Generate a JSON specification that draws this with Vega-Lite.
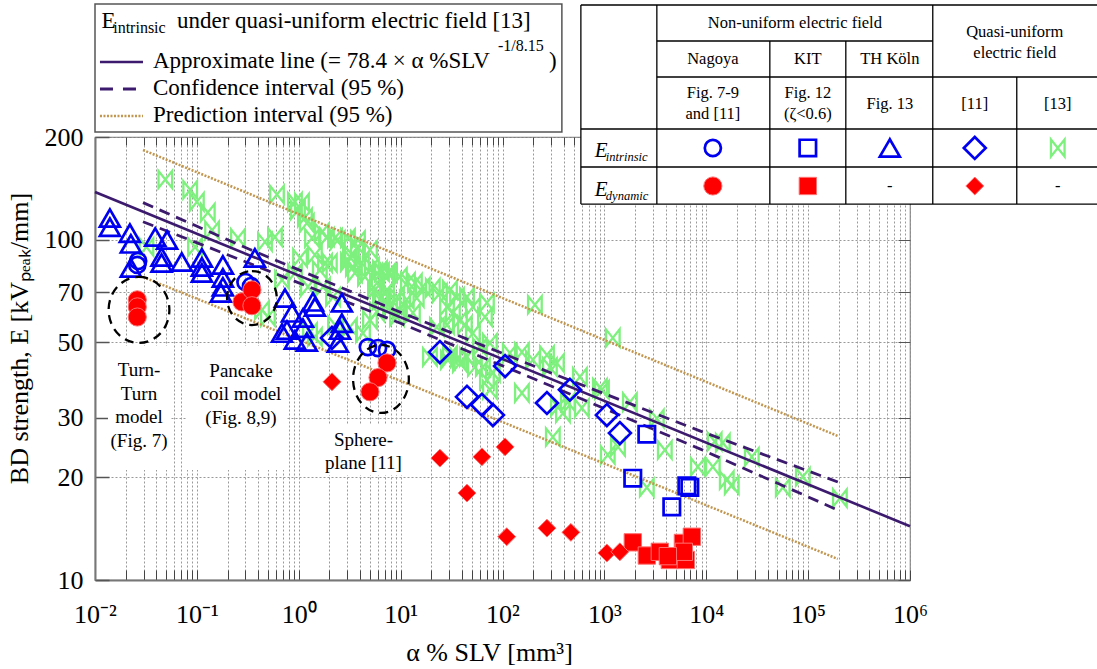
{
"$schema":"https://vega.github.io/schema/vega-lite/v6.json",
"width":815,"height":443,
"autosize":{"type":"none"},
"padding":{"left":95,"top":137,"right":187,"bottom":89},
"background":"white",
"config":{"font":"Liberation Serif","view":{"stroke":"#808080","strokeWidth":1.2}},
"datasets":{
"pts":[
{"x":0.014,"y":115.6,"s":"TH"},{"x":0.014,"y":108.7,"s":"TH"},{"x":0.022,"y":104.4,"s":"TH"},{"x":0.0225,"y":97.1,"s":"TH"},{"x":0.0225,"y":82.5,"s":"TH"},{"x":0.039,"y":101.7,"s":"TH"},{"x":0.051,"y":99.7,"s":"TH"},{"x":0.045,"y":88.9,"s":"TH"},{"x":0.045,"y":85.3,"s":"TH"},{"x":0.071,"y":85.9,"s":"TH"},{"x":0.112,"y":88.3,"s":"TH"},{"x":0.112,"y":83.1,"s":"TH"},{"x":0.112,"y":79.8,"s":"TH"},{"x":0.18,"y":84.2,"s":"TH"},{"x":0.18,"y":77.1,"s":"TH"},{"x":0.18,"y":72.6,"s":"TH"},{"x":0.172,"y":69.7,"s":"TH"},{"x":0.371,"y":88.3,"s":"TH"},{"x":0.732,"y":67.3,"s":"TH"},{"x":0.858,"y":60.9,"s":"TH"},{"x":0.766,"y":54.2,"s":"TH"},{"x":1.10,"y":58.8,"s":"TH"},{"x":1.38,"y":65.6,"s":"TH"},{"x":1.44,"y":63.4,"s":"TH"},{"x":0.917,"y":50.7,"s":"TH"},{"x":1.20,"y":50.0,"s":"TH"},{"x":2.65,"y":65.2,"s":"TH"},{"x":2.65,"y":56.8,"s":"TH"},{"x":2.54,"y":54.2,"s":"TH"},{"x":2.42,"y":49.7,"s":"TH"},{"x":1.10,"y":54.9,"s":"TH"},{"x":0.685,"y":53.1,"s":"TH"},{"x":633800,"y":185.7,"s":"TH"},
{"x":0.026,"y":84.2,"s":"Ng_i"},{"x":0.0265,"y":86.5,"s":"Ng_i"},{"x":0.30,"y":75.0,"s":"Ng_i"},{"x":0.34,"y":73.0,"s":"Ng_i"},{"x":4.77,"y":48.3,"s":"Ng_i"},{"x":6.0,"y":48.0,"s":"Ng_i"},{"x":7.35,"y":47.4,"s":"Ng_i"},{"x":11610,"y":185.7,"s":"Ng_i"},
{"x":0.026,"y":66.5,"s":"Ng_d"},{"x":0.026,"y":63.4,"s":"Ng_d"},{"x":0.026,"y":59.2,"s":"Ng_d"},{"x":0.277,"y":65.6,"s":"Ng_d"},{"x":0.347,"y":71.1,"s":"Ng_d"},{"x":0.347,"y":63.9,"s":"Ng_d"},{"x":7.35,"y":43.4,"s":"Ng_d"},{"x":6.0,"y":39.3,"s":"Ng_d"},{"x":5.0,"y":35.7,"s":"Ng_d"},{"x":11610,"y":143.6,"s":"Ng_d"},
{"x":2610,"y":26.8,"s":"KIT_i"},{"x":1900,"y":19.9,"s":"KIT_i"},{"x":4590,"y":16.4,"s":"KIT_i"},{"x":6450,"y":18.9,"s":"KIT_i"},{"x":6900,"y":18.7,"s":"KIT_i"},{"x":99330,"y":185.7,"s":"KIT_i"},
{"x":1900,"y":12.9,"s":"KIT_d"},{"x":2610,"y":11.8,"s":"KIT_d"},{"x":3500,"y":12.1,"s":"KIT_d"},{"x":4390,"y":11.45,"s":"KIT_d"},{"x":5900,"y":12.85,"s":"KIT_d"},{"x":7220,"y":13.4,"s":"KIT_d"},{"x":6310,"y":11.45,"s":"KIT_d"},{"x":6030,"y":12.1,"s":"KIT_d"},{"x":4200,"y":11.75,"s":"KIT_d"},{"x":99330,"y":143.6,"s":"KIT_d"},
{"x":2.12,"y":51.4,"s":"Q11_i"},{"x":24.3,"y":46.7,"s":"Q11_i"},{"x":106,"y":42.5,"s":"Q11_i"},{"x":44.8,"y":34.5,"s":"Q11_i"},{"x":62.8,"y":32.7,"s":"Q11_i"},{"x":80.5,"y":30.5,"s":"Q11_i"},{"x":273,"y":33.1,"s":"Q11_i"},{"x":459,"y":36.2,"s":"Q11_i"},{"x":1058,"y":30.5,"s":"Q11_i"},{"x":1420,"y":27.0,"s":"Q11_i"},{"x":4324000,"y":185.7,"s":"Q11_i"},
{"x":2.12,"y":38.2,"s":"Q11_d"},{"x":24.3,"y":22.8,"s":"Q11_d"},{"x":62.8,"y":23.0,"s":"Q11_d"},{"x":106,"y":24.6,"s":"Q11_d"},{"x":44.8,"y":18.0,"s":"Q11_d"},{"x":110,"y":13.4,"s":"Q11_d"},{"x":273,"y":14.2,"s":"Q11_d"},{"x":469,"y":13.8,"s":"Q11_d"},{"x":1058,"y":12.0,"s":"Q11_d"},{"x":1420,"y":12.1,"s":"Q11_d"},{"x":4324000,"y":143.6,"s":"Q11_d"},
{"x":0.049,"y":150,"s":"Q13"},{"x":0.086,"y":140,"s":"Q13"},{"x":0.10,"y":129,"s":"Q13"},{"x":0.128,"y":120,"s":"Q13"},{"x":0.141,"y":106.5,"s":"Q13"},{"x":0.096,"y":95.1,"s":"Q13"},{"x":0.032,"y":95.1,"s":"Q13"},{"x":0.253,"y":101,"s":"Q13"},{"x":0.611,"y":135.5,"s":"Q13"},{"x":0.917,"y":129,"s":"Q13"},{"x":0.982,"y":122,"s":"Q13"},{"x":1.15,"y":116,"s":"Q13"},{"x":0.584,"y":101.7,"s":"Q13"},{"x":1.35,"y":101,"s":"Q13"},{"x":1.69,"y":105,"s":"Q13"},{"x":2.27,"y":101,"s":"Q13"},{"x":3.04,"y":101,"s":"Q13"},{"x":3.81,"y":99.7,"s":"Q13"},{"x":3.33,"y":90.1,"s":"Q13"},{"x":1.44,"y":90.1,"s":"Q13"},{"x":1.81,"y":85.3,"s":"Q13"},{"x":3.04,"y":85.9,"s":"Q13"},{"x":4.17,"y":85.3,"s":"Q13"},{"x":5.23,"y":83.1,"s":"Q13"},{"x":6.56,"y":80.3,"s":"Q13"},{"x":7.51,"y":79.8,"s":"Q13"},{"x":3.56,"y":79.8,"s":"Q13"},{"x":4.47,"y":77.7,"s":"Q13"},{"x":0.685,"y":76.1,"s":"Q13"},{"x":0.917,"y":79.8,"s":"Q13"},{"x":1.23,"y":72.6,"s":"Q13"},{"x":5.60,"y":71.1,"s":"Q13"},{"x":6.56,"y":67.8,"s":"Q13"},{"x":0.498,"y":59.2,"s":"Q13"},{"x":0.436,"y":62.1,"s":"Q13"},{"x":1.29,"y":53.5,"s":"Q13"},{"x":2.27,"y":56.1,"s":"Q13"},{"x":1.075,"y":128.4,"s":"Q13"},{"x":1.20,"y":111.7,"s":"Q13"},{"x":1.89,"y":101.7,"s":"Q13"},{"x":2.42,"y":99.7,"s":"Q13"},{"x":3.81,"y":95.1,"s":"Q13"},{"x":3.18,"y":88.9,"s":"Q13"},{"x":5.0,"y":93.2,"s":"Q13"},{"x":3.40,"y":83.1,"s":"Q13"},{"x":6.27,"y":81.4,"s":"Q13"},{"x":7.87,"y":79.8,"s":"Q13"},{"x":9.83,"y":77.7,"s":"Q13"},{"x":11.8,"y":75.1,"s":"Q13"},{"x":13.8,"y":74.6,"s":"Q13"},{"x":16.5,"y":72.6,"s":"Q13"},{"x":20.7,"y":72.1,"s":"Q13"},{"x":24.3,"y":69.7,"s":"Q13"},{"x":30.5,"y":71.1,"s":"Q13"},{"x":35.7,"y":67.8,"s":"Q13"},{"x":44.8,"y":67.8,"s":"Q13"},{"x":70.3,"y":65.2,"s":"Q13"},{"x":51.2,"y":63.4,"s":"Q13"},{"x":67.2,"y":59.2,"s":"Q13"},{"x":5.86,"y":74.6,"s":"Q13"},{"x":7.35,"y":71.1,"s":"Q13"},{"x":9.21,"y":67.8,"s":"Q13"},{"x":11.5,"y":66.5,"s":"Q13"},{"x":14.4,"y":67.3,"s":"Q13"},{"x":6.27,"y":66.5,"s":"Q13"},{"x":7.87,"y":63.4,"s":"Q13"},{"x":9.83,"y":62.1,"s":"Q13"},{"x":13.2,"y":60.9,"s":"Q13"},{"x":5.0,"y":58.0,"s":"Q13"},{"x":4.27,"y":53.1,"s":"Q13"},{"x":3.18,"y":55.3,"s":"Q13"},{"x":1.61,"y":81.4,"s":"Q13"},{"x":2.02,"y":85.3,"s":"Q13"},{"x":2.17,"y":67.8,"s":"Q13"},{"x":1.73,"y":72.6,"s":"Q13"},{"x":1.44,"y":51.7,"s":"Q13"},{"x":5.86,"y":61.3,"s":"Q13"},{"x":9.21,"y":59.2,"s":"Q13"},{"x":19.4,"y":45.2,"s":"Q13"},{"x":30.5,"y":45.8,"s":"Q13"},{"x":38.2,"y":43.4,"s":"Q13"},{"x":22.7,"y":55.3,"s":"Q13"},{"x":28.5,"y":56.1,"s":"Q13"},{"x":38.2,"y":58.0,"s":"Q13"},{"x":51.2,"y":53.1,"s":"Q13"},{"x":60,"y":48.3,"s":"Q13"},{"x":64.2,"y":42.2,"s":"Q13"},{"x":80.5,"y":40.6,"s":"Q13"},{"x":28.5,"y":63.4,"s":"Q13"},{"x":32.6,"y":60.9,"s":"Q13"},{"x":42.7,"y":56.1,"s":"Q13"},{"x":75.2,"y":49.7,"s":"Q13"},{"x":44.8,"y":45.2,"s":"Q13"},{"x":53.6,"y":42.2,"s":"Q13"},{"x":70.3,"y":38.7,"s":"Q13"},{"x":75.2,"y":36.2,"s":"Q13"},{"x":155,"y":35.4,"s":"Q13"},{"x":118,"y":46.4,"s":"Q13"},{"x":155,"y":46.7,"s":"Q13"},{"x":199,"y":44.3,"s":"Q13"},{"x":273,"y":45.8,"s":"Q13"},{"x":292,"y":42.2,"s":"Q13"},{"x":208,"y":64.3,"s":"Q13"},{"x":1210,"y":51.4,"s":"Q13"},{"x":575,"y":39.5,"s":"Q13"},{"x":904,"y":36.7,"s":"Q13"},{"x":438,"y":33.3,"s":"Q13"},{"x":392,"y":30.9,"s":"Q13"},{"x":601,"y":32.0,"s":"Q13"},{"x":1780,"y":33.3,"s":"Q13"},{"x":36.5,"y":44.9,"s":"Q13"},{"x":29.1,"y":44.3,"s":"Q13"},{"x":342,"y":43.4,"s":"Q13"},{"x":3270,"y":29.8,"s":"Q13"},{"x":1080,"y":23.3,"s":"Q13"},{"x":1360,"y":24.6,"s":"Q13"},{"x":2610,"y":18.7,"s":"Q13"},{"x":3920,"y":24.1,"s":"Q13"},{"x":8270,"y":21.5,"s":"Q13"},{"x":11600,"y":21.5,"s":"Q13"},{"x":12100,"y":25.5,"s":"Q13"},{"x":14550,"y":25.3,"s":"Q13"},{"x":15900,"y":19.66,"s":"Q13"},{"x":17800,"y":19.0,"s":"Q13"},{"x":28000,"y":23.0,"s":"Q13"},{"x":56400,"y":18.7,"s":"Q13"},{"x":88800,"y":20.1,"s":"Q13"},{"x":205000,"y":17.4,"s":"Q13"},{"x":312,"y":26.3,"s":"Q13"},{"x":350,"y":32.2,"s":"Q13"},{"x":947,"y":36.2,"s":"Q13"},{"x":0.466,"y":98.4,"s":"Q13"},{"x":1.03,"y":88.3,"s":"Q13"},{"x":28210000,"y":185.7,"s":"Q13"}
],
"lines":[
{"x":0.01,"y":137.9,"k":"approx"},{"x":1000000,"y":14.39,"k":"approx"},
{"x":0.0296,"y":128.3,"k":"ciU"},{"x":0.332,"y":93.45,"k":"ciU"},{"x":9.84,"y":61.25,"k":"ciU"},{"x":291.8,"y":40.68,"k":"ciU"},{"x":8652,"y":27.41,"k":"ciU"},{"x":195600,"y":19.40,"k":"ciU"},
{"x":0.0296,"y":112.8,"k":"ciL"},{"x":0.332,"y":85.0,"k":"ciL"},{"x":9.84,"y":56.86,"k":"ciL"},{"x":291.8,"y":37.26,"k":"ciL"},{"x":8652,"y":24.27,"k":"ciL"},{"x":195600,"y":16.05,"k":"ciL"},
{"x":0.0296,"y":183.2,"k":"piU"},{"x":75.2,"y":69.7,"k":"piU"},{"x":195600,"y":26.48,"k":"piU"},
{"x":0.0296,"y":77.6,"k":"piL"},{"x":75.2,"y":30.13,"k":"piL"},{"x":195600,"y":11.53,"k":"piL"}
],
"whites":[
{"x":0.01341,"x2":0.05445,"y":48.66,"y2":21.04},
{"x":0.07816,"x2":0.7659,"y":48.66,"y2":21.04},
{"x":1.543,"x2":11.27,"y":28.53,"y2":20.34},
{"x":588,"x2":72900000,"y":488.3,"y2":127.1}
],
"annot":[
{"x":0.02703,"y":41.37,"t":"Turn-\nTurn\nmodel\n(Fig. 7)"},
{"x":0.2709,"y":41.10,"t":"Pancake\ncoil model\n(Fig. 8,9)"},
{"x":4.314,"y":25.8,"t":"Sphere-\nplane [11]"}
],
"tblRules":[
{"x":588,"x2":72900000,"y":488.3,"y2":488.3},
{"x":3274,"x2":1673000,"y":382.8,"y2":382.8},
{"x":3274,"x2":72900000,"y":300.1,"y2":300.1},
{"x":588,"x2":72900000,"y":211.1,"y2":211.1},
{"x":588,"x2":72900000,"y":163.3,"y2":163.3},
{"x":588,"x2":72900000,"y":127.1,"y2":127.1},
{"x":588,"x2":588,"y":488.3,"y2":127.1},
{"x":3274,"x2":3274,"y":488.3,"y2":127.1},
{"x":42090,"x2":42090,"y":382.8,"y2":127.1},
{"x":234400,"x2":234400,"y":382.8,"y2":127.1},
{"x":1673000,"x2":1673000,"y":488.3,"y2":127.1},
{"x":11170000,"x2":11170000,"y":300.1,"y2":127.1}
],
"tblText":[
{"x":74050,"y":432.3,"t":"Non-uniform electric field"},
{"x":11610,"y":338.9,"t":"Nagoya"},
{"x":99330,"y":338.9,"t":"KIT"},
{"x":633800,"y":338.9,"t":"TH Köln"},
{"x":10680000,"y":406.8,"t":"Quasi-uniform\nelectric field"},
{"x":11610,"y":269.3,"t":"Fig. 7-9\nand [11]"},
{"x":99330,"y":269.3,"t":"Fig. 12\n(ζ<0.6)"},
{"x":633800,"y":250.0,"t":"Fig. 13"},
{"x":4324000,"y":250.0,"t":"[11]"},
{"x":28210000,"y":250.0,"t":"[13]"},
{"x":633800,"y":143.6,"t":"-"},
{"x":28210000,"y":143.6,"t":"-"}
],
"legText":[
{"x":0.01155,"y":417.9,"t":"E"},
{"x":0.06378,"y":417.9,"t":"under quasi-uniform electric field [13]"},
{"x":0.03709,"y":318.9,"t":"Approximate line (= 78.4 × α %SLV"},
{"x":285.4,"y":318.9,"t":")"},
{"x":0.03709,"y":265.7,"t":"Confidence interval (95 %)"},
{"x":0.03709,"y":221.4,"t":"Prediction interval (95 %)"}
],
"legSmall":[
{"x":0.01510,"y":404.1,"t":"intrinsic"},
{"x":90.13,"y":357.7,"t":"-1/8.15"}
]
},
"encoding":{
"x":{"field":"x","type":"quantitative","scale":{"type":"log","domain":[0.01,1000000],"nice":false},"axis":null},
"y":{"field":"y","type":"quantitative","scale":{"type":"log","domain":[10,200],"nice":false},"axis":null}
},
"layer":[
{"data":{"name":"whites"},"mark":{"type":"rect","fill":"white","strokeWidth":0},
 "encoding":{
  "x":{"field":"x","type":"quantitative","scale":{"type":"log","domain":[0.01,1000000],"nice":false},
   "axis":{"orient":"bottom","values":[0.01,0.02,0.03,0.04,0.05,0.06,0.07,0.08,0.09,0.1,0.2,0.3,0.4,0.5,0.6,0.7,0.8,0.9,1,2,3,4,5,6,7,8,9,10,20,30,40,50,60,70,80,90,100,200,300,400,500,600,700,800,900,1000,2000,3000,4000,5000,6000,7000,8000,9000,10000,20000,30000,40000,50000,60000,70000,80000,90000,100000,200000,300000,400000,500000,600000,700000,800000,900000,1000000],
   "labelExpr":"abs(log(datum.value)/LN10 - round(log(datum.value)/LN10)) < 0.001 ? '10' + ['⁻²','⁻¹','⁰','¹','²','³','⁴','⁵','⁶'][round(log(datum.value)/LN10)+2] : ''",
   "labelFont":"Liberation Serif","labelFontSize":26,"labelColor":"#000","labelOverlap":false,"labelFlush":false,"labelPadding":31,
   "tickSize":-10,"tickColor":"#444","tickWidth":1,
   "domainColor":"#777","domainWidth":2,
   "grid":true,"gridColor":"#999","gridDash":[2,2],"gridWidth":1,
   "title":"α % SLV [mm³]","titleFont":"Liberation Serif","titleFontSize":26,"titleFontWeight":"normal","titleColor":"#000","titlePadding":12,"titleX":394}},
  "y":{"field":"y","type":"quantitative","scale":{"type":"log","domain":[10,200],"nice":false},
   "axis":{"orient":"left","values":[10,20,30,50,70,100,200],"labelExpr":"format(datum.value,'d')",
   "labelFont":"Liberation Serif","labelFontSize":26,"labelColor":"#000","labelFlush":false,"labelOverlap":false,"labelPadding":26,
   "tickSize":-14,"tickColor":"#555","tickWidth":1.5,
   "domainColor":"#777","domainWidth":2,
   "grid":true,"gridColor":"#999","gridDash":[2,2],"gridWidth":1,
   "title":"BD strength, E [kVₚₑₐₖ/mm]","titleFont":"Liberation Serif","titleFontSize":26,"titleFontWeight":"normal","titleColor":"#000","titlePadding":12,"titleY":201}},
  "x2":{"field":"x2"},"y2":{"field":"y2"}}},
{"data":{"values":[{"x":0.01,"x2":382.7,"y":491.6,"y2":206.9}]},"mark":{"type":"rect","fill":"white","stroke":"#555","strokeWidth":1.5},
 "encoding":{"x2":{"field":"x2"},"y2":{"field":"y2"}}},
{"data":{"name":"pts"},"transform":[{"filter":"datum.s=='Q13'"}],
 "mark":{"type":"point","shape":"M-0.8,-1L0.8,1L0.8,-1L-0.8,1Z","filled":false,"color":"#7df07d","strokeWidth":2.3,"size":290,"opacity":1}},
{"data":{"name":"lines"},"transform":[{"filter":"datum.k=='approx'"}],
 "mark":{"type":"line","color":"#3c1a6e","strokeWidth":2.6},
 "encoding":{
  "x":{"field":"x","type":"quantitative","scale":{"type":"log","domain":[0.01,1000000],"nice":false},
   "axis":{"orient":"top","values":[0.01,0.02,0.03,0.04,0.05,0.06,0.07,0.08,0.09,0.1,0.2,0.3,0.4,0.5,0.6,0.7,0.8,0.9,1,2,3,4,5,6,7,8,9,10,20,30,40,50,60,70,80,90,100,200,300,400,500,600,700,800,900,1000,2000,3000,4000,5000,6000,7000,8000,9000,10000,20000,30000,40000,50000,60000,70000,80000,90000,100000,200000,300000,400000,500000,600000,700000,800000,900000,1000000],"labels":false,"tickSize":-8,"tickColor":"#444","domain":false,"grid":false,"title":null}},
  "y":{"field":"y","type":"quantitative","scale":{"type":"log","domain":[10,200],"nice":false},
   "axis":{"orient":"right","values":[10,20,30,50,70,100,200],"labels":false,"tickSize":-12,"tickColor":"#555","domain":false,"grid":false,"title":null}}}},
{"data":{"name":"lines"},"transform":[{"filter":"datum.k=='ciU' || datum.k=='ciL'"}],
 "mark":{"type":"line","color":"#3c1a6e","strokeWidth":2.8,"strokeDash":[11,7]},
 "encoding":{"detail":{"field":"k"}}},
{"data":{"name":"lines"},"transform":[{"filter":"datum.k=='piU' || datum.k=='piL'"}],
 "mark":{"type":"line","color":"#c2964e","strokeWidth":2.5,"strokeDash":[2,1.5]},
 "encoding":{"detail":{"field":"k"}}},
{"data":{"name":"pts"},"transform":[{"filter":"datum.s=='Ng_i'"}],
 "mark":{"type":"point","shape":"circle","filled":false,"color":"#0000f0","strokeWidth":2.7,"size":260,"opacity":1}},
{"data":{"name":"pts"},"transform":[{"filter":"datum.s=='TH'"}],
 "mark":{"type":"point","shape":"triangle-up","filled":false,"color":"#0000f0","strokeWidth":2.7,"size":400,"opacity":1}},
{"data":{"name":"pts"},"transform":[{"filter":"datum.s=='Q11_i'"}],
 "mark":{"type":"point","shape":"diamond","filled":false,"color":"#0000f0","strokeWidth":2.7,"size":480,"opacity":1}},
{"data":{"name":"pts"},"transform":[{"filter":"datum.s=='KIT_i'"}],
 "mark":{"type":"point","shape":"square","filled":false,"color":"#0000f0","strokeWidth":2.7,"size":270,"opacity":1}},
{"data":{"name":"pts"},"transform":[{"filter":"datum.s=='Ng_d'"}],
 "mark":{"type":"point","shape":"circle","filled":true,"fill":"#ff0000","stroke":"#ff7070","strokeWidth":1,"size":330,"opacity":1}},
{"data":{"name":"pts"},"transform":[{"filter":"datum.s=='KIT_d'"}],
 "mark":{"type":"point","shape":"square","filled":true,"fill":"#ff0000","stroke":"#ff7070","strokeWidth":1,"size":300,"opacity":1}},
{"data":{"name":"pts"},"transform":[{"filter":"datum.s=='Q11_d'"}],
 "mark":{"type":"point","shape":"diamond","filled":true,"fill":"#ff0000","stroke":"#ff7070","strokeWidth":1,"size":320,"opacity":1}},
{"data":{"values":[{"x":0.02703,"y":62.1}]},
 "mark":{"type":"point","shape":"M0,-1A0.92,1,0,1,1,0,1A0.92,1,0,1,1,0,-1Z","filled":false,"color":"#000","strokeWidth":2.3,"strokeDash":[9,6],"size":4356,"opacity":1}},
{"data":{"values":[{"x":0.347,"y":67.3}]},
 "mark":{"type":"point","shape":"M0,-1A0.92,1,0,1,1,0,1A0.92,1,0,1,1,0,-1Z","filled":false,"color":"#000","strokeWidth":2.3,"strokeDash":[9,6],"size":2916,"opacity":1}},
{"data":{"values":[{"x":6.41,"y":38.94}]},
 "mark":{"type":"point","shape":"M0,-1A0.82,1,0,1,1,0,1A0.82,1,0,1,1,0,-1Z","filled":false,"color":"#000","strokeWidth":2.3,"strokeDash":[9,6],"size":4624,"opacity":1}},
{"data":{"name":"annot"},
 "mark":{"type":"text","font":"Liberation Serif","fontSize":19,"align":"center","baseline":"middle","lineBreak":"\n","lineHeight":23.5,"color":"#000"},
 "encoding":{"text":{"field":"t"}}},
{"data":{"values":[{"x":0.01119,"x2":0.02958,"y":332.1}]},"mark":{"type":"rule","color":"#3c1a6e","strokeWidth":2.6},"encoding":{"x2":{"field":"x2"}}},
{"data":{"values":[{"x":0.01119,"x2":0.02958,"y":276.7}]},"mark":{"type":"rule","color":"#3c1a6e","strokeWidth":2.8,"strokeDash":[13,10]},"encoding":{"x2":{"field":"x2"}}},
{"data":{"values":[{"x":0.01119,"x2":0.02958,"y":230.5}]},"mark":{"type":"rule","color":"#c2964e","strokeWidth":2.5,"strokeDash":[2,1.5]},"encoding":{"x2":{"field":"x2"}}},
{"data":{"name":"legText"},
 "mark":{"type":"text","font":"Liberation Serif","fontSize":23,"align":"left","baseline":"alphabetic","color":"#000"},
 "encoding":{"text":{"field":"t"}}},
{"data":{"name":"legSmall"},
 "mark":{"type":"text","font":"Liberation Serif","fontSize":16,"align":"left","baseline":"alphabetic","color":"#000"},
 "encoding":{"text":{"field":"t"}}},
{"data":{"name":"tblRules"},"mark":{"type":"rule","color":"#000","strokeWidth":1.3},
 "encoding":{"x2":{"field":"x2"},"y2":{"field":"y2"}}},
{"data":{"name":"tblText"},
 "mark":{"type":"text","font":"Liberation Serif","fontSize":16.5,"align":"center","baseline":"middle","lineBreak":"\n","lineHeight":21,"color":"#000"},
 "encoding":{"text":{"field":"t"}}},
{"data":{"values":[{"x":806.6,"y":174.7,"t":"E"},{"x":806.6,"y":134.2,"t":"E"}]},
 "mark":{"type":"text","font":"Liberation Serif","fontSize":21,"fontStyle":"italic","align":"left","baseline":"alphabetic","color":"#000"},
 "encoding":{"text":{"field":"t"}}},
{"data":{"values":[{"x":1034,"y":170.0,"t":"intrinsic"},{"x":1034,"y":130.6,"t":"dynamic"}]},
 "mark":{"type":"text","font":"Liberation Serif","fontSize":12.5,"fontStyle":"italic","align":"left","baseline":"alphabetic","color":"#000"},
 "encoding":{"text":{"field":"t"}}}
],
"resolve":{"axis":{"x":"independent","y":"independent"}}
}
